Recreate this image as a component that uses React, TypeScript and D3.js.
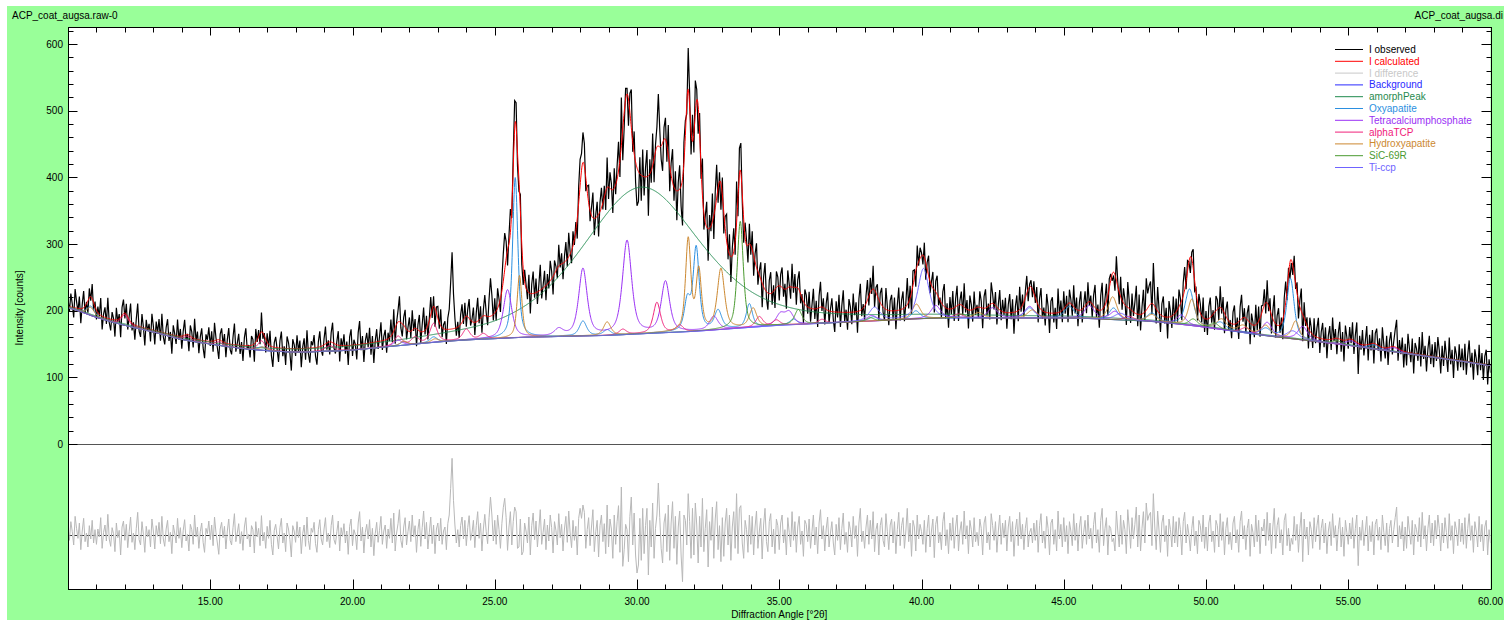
import React from "react";
import * as d3 from "d3";

// ---------------- data ----------------
// background control points, one per degree from 10 to 60 (counts)
const BACKGROUND_START = 10;
const BACKGROUND: number[] = [
  204, 190, 178, 168, 157, 150, 144, 140, 138, 139,
  141, 145, 149, 153, 156, 158, 160, 161, 162, 163,
  165, 167, 169, 172, 175, 178, 180, 182, 184, 186,
  188, 189, 189, 189, 189, 189, 188, 186, 184, 180,
  175, 169, 163, 158, 153, 148, 142, 136, 130, 124,
  118,
];

// peaks: [position °2θ, height (counts above background), FWHM °]
const AMORPH_PEAK: [number, number, number][] = [[30.15, 220, 5.0]];

const OXYAPATITE: [number, number, number][] = [
  [10.8, 14, 0.3], [16.8, 5, 0.3], [21.8, 5, 0.3], [22.85, 8, 0.3], [25.72, 240, 0.22],
  [28.1, 22, 0.3], [28.95, 8, 0.3], [31.77, 45, 0.25], [32.08, 124, 0.25], [32.85, 28, 0.3],
  [33.95, 35, 0.25], [35.5, 8, 0.3], [38.3, 6, 0.35], [39.8, 12, 0.35], [43.8, 15, 0.4],
  [45.2, 17, 0.4], [46.75, 17, 0.35], [48.1, 12, 0.4], [49.42, 54, 0.35], [50.5, 10, 0.4],
  [52.1, 10, 0.4], [52.97, 90, 0.3], [55.9, 6, 0.4],
];

const TETRACALCIUMPHOSPHATE: [number, number, number][] = [
  [21.6, 8, 0.35], [25.45, 72, 0.35], [27.25, 10, 0.35], [28.1, 100, 0.35], [29.65, 140, 0.38],
  [31.0, 76, 0.35], [32.7, 20, 0.35], [35.04, 16, 0.35], [35.35, 18, 0.35], [38.25, 8, 0.4],
  [40.5, 19, 0.4], [42.5, 15, 0.4], [43.8, 17, 0.4], [45.9, 19, 0.4], [46.8, 12, 0.4],
  [49.13, 14, 0.4], [52.15, 20, 0.4], [53.4, 20, 0.4], [55.1, 7, 0.4], [56.6, 6, 0.4],
];

const ALPHA_TCP: [number, number, number][] = [
  [12.0, 16, 0.3], [14.2, 6, 0.3], [15.3, 5, 0.3], [16.8, 14, 0.3], [19.2, 8, 0.4],
  [21.6, 14, 0.3], [22.2, 10, 0.3], [22.85, 28, 0.3], [24.0, 16, 0.3], [24.6, 8, 0.3],
  [29.5, 8, 0.3], [30.7, 46, 0.3], [31.5, 10, 0.3], [34.3, 15, 0.3], [34.9, 8, 0.3],
  [36.5, 6, 0.3], [41.3, 6, 0.4], [47.3, 6, 0.4], [51.4, 8, 0.4],
];

const HYDROXYAPATITE: [number, number, number][] = [
  [10.8, 12, 0.3], [16.85, 5, 0.3], [21.8, 6, 0.3], [22.9, 5, 0.3], [25.87, 93, 0.2],
  [28.95, 20, 0.3], [31.8, 137, 0.22], [32.17, 89, 0.22], [32.95, 90, 0.3], [34.08, 28, 0.3],
  [39.82, 22, 0.35], [42.0, 8, 0.4], [43.9, 12, 0.4], [46.72, 34, 0.35], [48.1, 10, 0.4],
  [49.5, 39, 0.3], [50.55, 15, 0.4], [51.3, 10, 0.4], [52.1, 15, 0.4], [53.15, 27, 0.3],
];

const SIC_69R: [number, number, number][] = [
  [33.63, 160, 0.25], [35.67, 22, 0.3], [38.2, 5, 0.3], [41.4, 6, 0.35],
  [49.55, 10, 0.35], [50.3, 8, 0.35], [54.6, 5, 0.4],
];

const TI_CCP: [number, number, number][] = [
  [38.35, 20, 0.45], [40.07, 75, 0.45], [47.0, 10, 0.5], [53.05, 12, 0.5],
];

// I difference (observed - calculated), 20 values per degree (step 0.05°), rows start at 10°
const DIFF_ROWS: number[][] = [
  [12, -8, 20, 5, -15, 28, 10, -5, 18, -22, 6, 25, -10, 3, -18, 14, -6, 22, -12, 8],
  [-14, 9, -3, 26, -20, 4, 15, -9, 31, -6, -17, 11, 2, -25, 18, -4, 7, -30, 12, 21],
  [-8, 16, -19, 5, 27, -11, 3, -22, 10, 34, -7, -15, 20, 1, -26, 13, -3, 8, -18, 24],
  [6, -21, 14, -2, 19, -13, 28, -6, -17, 9, 22, -10, 4, -28, 15, 3, -12, 25, -5, 11],
  [-19, 7, 23, -9, 1, -24, 16, 8, -14, 30, -3, 12, -20, 5, 18, -11, -26, 10, 2, 21],
  [-7, 15, -16, 27, 4, -12, -29, 9, 19, -4, 13, -21, 6, 24, -8, -15, 11, 32, -10, 3],
  [17, -13, 5, -23, 12, 26, -6, 1, -18, 14, 8, -27, 20, -3, 10, -16, 29, -9, 4, -20],
  [13, -5, 22, -14, -30, 7, 16, -2, -21, 11, 25, -12, 3, -25, 18, 9, -7, -33, 14, 6],
  [-11, 20, -4, 12, -28, 2, 15, -17, 27, -8, -22, 10, 4, 19, -13, -26, 8, 23, -6, -15],
  [9, 26, -10, 3, -19, 14, 30, -7, -14, 5, 21, -24, 11, -2, 17, -12, 6, -29, 13, 24],
  [-16, 8, 1, -22, 18, 35, -9, 12, -27, 4, 16, -6, 23, -18, 10, -31, 2, 19, -11, 7],
  [28, -14, 6, 15, -20, 9, -5, 25, -12, 33, -24, 3, 17, 38, -8, -19, 12, 26, -15, 5],
  [21, -10, 30, -3, 14, -26, 8, 24, -17, 11, 36, -6, 19, -21, 4, 27, -13, 15, -28, 9],
  [18, -9, 25, -14, 6, 12, -22, 17, 30, 70, 115, 52, 15, -12, 8, -18, 14, 27, -6, 22],
  [-16, 11, 29, -8, 3, 22, -19, 14, 35, -5, 18, -24, 9, 31, 5, -13, 26, 57, 30, -9],
  [22, -14, 30, 8, -20, 17, 41, 55, 26, -23, 12, 35, -15, 20, 42, 35, -20, -18, 24, -30],
  [-25, 18, 6, -12, 27, -30, 14, 33, -7, 21, -18, 9, 38, -14, 4, 24, -22, 15, -9, 30],
  [11, -27, 20, 7, -15, 32, -4, 16, -24, 9, 28, -11, 36, 3, -19, 22, -8, 13, -30, 25],
  [40, 25, 45, 34, -20, 8, 26, -16, 12, 38, -25, 5, 22, -33, 14, 30, -10, 17, -28, 45],
  [-18, 24, 9, -35, 30, -14, 20, 44, -26, 72, -47, -22, 16, 8, -40, 28, 57, -15, 33, -30],
  [-57, -45, 25, -38, 40, -28, 14, 40, -60, 22, -18, 48, -35, 10, 30, 78, 26, -20, -42, 18],
  [32, -25, 45, -38, 18, 50, -20, 28, -44, 12, 36, -30, -70, 30, 22, -15, 62, 20, -35, 40],
  [-30, 48, 15, -42, 28, -18, 55, -25, 10, 38, -48, 20, -8, 42, -35, 24, 50, -22, 14, -40],
  [26, -32, 18, 40, -15, 30, -38, 12, 35, -20, 62, -28, 40, 44, -12, -35, 22, 8, -26, 30],
  [-14, 28, -30, 12, 36, -20, 6, 25, -36, 15, 40, -10, -25, 20, 32, -18, 9, -28, 24, 14],
  [-22, 18, 30, -12, 8, -30, 26, 4, -18, 35, -8, 20, -26, 12, 28, -14, 6, -32, 22, 16],
  [-10, 24, -20, 5, 30, -15, 12, -28, 18, 38, -6, 14, -24, 9, 27, -18, 3, 20, -12, -30],
  [16, -8, 26, -22, 10, 33, -14, 4, -26, 20, 8, -18, 28, -5, 14, -32, 18, 40, -10, 6],
  [-20, 12, 30, -14, 22, -6, 35, -25, 8, 18, -30, 14, 26, -8, -18, 32, 5, -22, 15, 24],
  [-12, 20, -28, 8, 34, -16, 14, 26, -20, 6, 40, -10, 18, -32, 22, 12, -24, 30, -6, 16],
  [5, -14, 22, -26, 10, 30, -18, 6, 24, -34, 16, 28, -12, 4, -22, 20, 34, -16, 8, -28],
  [18, -8, 26, -20, 12, 30, -24, 6, 20, -14, 36, -6, 14, -28, 22, 8, -18, 26, -10, 4],
  [-16, 24, 10, -30, 18, 28, -12, 4, -22, 32, 14, -8, 20, -26, 6, 30, -14, 18, -4, 22],
  [-24, 12, 28, -10, 20, -32, 8, 24, -16, 34, -6, 16, -22, 10, 26, -18, 4, 10, -12, 18],
  [-8, 22, -26, 14, 32, -12, 6, -20, 28, 10, -30, 18, 24, -14, 8, -24, 36, -6, 16, -18],
  [26, -10, 14, -28, 20, 6, -16, 32, -8, 18, -24, 12, 28, -20, 4, 22, -14, 30, -6, 10],
  [-20, 16, 34, -12, 8, -26, 22, 40, -16, 10, 26, -30, 14, 10, -10, -5, -24, 36, 6, -18],
  [30, -14, 22, 8, -28, 38, 12, -20, 26, -6, 16, 42, -18, 30, -24, 10, 35, -12, 48, 22],
  [30, 34, -16, 62, 12, -22, 36, 6, -26, 18, 30, -10, 14, -32, 24, 8, -18, 28, -12, 20],
  [-18, 26, 8, -30, 20, 34, -12, 16, 0, -24, 10, 28, -16, 6, -28, 22, 14, -10, 30, -20],
  [12, -24, 18, 30, -10, 6, -26, 22, 14, -18, 32, -8, 20, -30, 10, 26, -14, 4, -22, 18],
  [28, -12, 8, -26, 20, 36, -6, 14, -22, 10, 24, -32, 16, 4, -18, 30, -10, 22, -28, 12],
  [6, 24, -16, 34, -8, 18, -28, 12, 40, -20, 14, 26, -12, 8, -30, 22, 32, -16, 10, -24],
  [-5, -14, 28, -8, 16, -26, 10, 34, -40, 24, -6, 12, -30, 20, 8, -20, 26, -10, 14, 30],
  [-22, 10, 24, -12, 18, -28, 6, 20, -16, 32, -4, 14, -24, 8, 26, -18, 12, -32, 22, 4],
  [-14, 18, -6, 26, -20, 10, 30, -46, 12, -8, 22, -16, 6, 28, -24, 14, -10, 20, -30, 16],
  [24, -8, 12, -22, 30, 4, -16, 18, -26, 10, 22, -12, 8, 26, 42, -18, 14, -6, 20, -24],
  [12, -20, 28, 6, -14, 22, -30, 16, 8, -10, 26, -18, 34, -6, 14, -24, 10, 30, -12, 18],
  [-16, 22, -6, 30, 10, -24, 18, -12, 26, 4, -20, 32, -8, 14, -28, 20, 8, -16, 24, -10],
  [18, -14, 26, -20, 10, 32, -8, 14, -26, 20, 6, -18, 28, -10, 16, -24, 12, 22, -30, 8],
  [-12],
];

const X_TICK_LABELS = [15, 20, 25, 30, 35, 40, 45, 50, 55, 60];
const Y_TICK_LABELS = [0, 100, 200, 300, 400, 500, 600];

const LEGEND_NAMES = [
  "I observed", "I calculated", "I difference", "Background", "amorphPeak", "Oxyapatite",
  "Tetracalciumphosphate", "alphaTCP", "Hydroxyapatite", "SiC-69R", "Ti-ccp",
];
const LEGEND_COLORS = [
  "#000000", "#ff0000", "#c8c8c8", "#2a2aff", "#1f8a4e", "#2b8fe0",
  "#9a30f5", "#f0207a", "#cc8830", "#4a9a30", "#6f63ff",
];

// ---------------- helpers ----------------
function backgroundAt(t: number): number {
  const n = BACKGROUND.length;
  const u = t - BACKGROUND_START;
  let i = Math.floor(u);
  if (i > n - 2) i = n - 2;
  if (i < 0) i = 0;
  const f = u - i;
  const p0 = BACKGROUND[Math.max(i - 1, 0)];
  const p1 = BACKGROUND[i];
  const p2 = BACKGROUND[i + 1];
  const p3 = BACKGROUND[Math.min(i + 2, n - 1)];
  return 0.5 * (2 * p1 + (-p0 + p2) * f + (2 * p0 - 5 * p1 + 4 * p2 - p3) * f * f + (-p0 + 3 * p1 - 3 * p2 + p3) * f * f * f);
}

function peaksAt(t: number, peaks: [number, number, number][], eta: number): number {
  let s = 0;
  for (const [p, h, w] of peaks) {
    const dx = (t - p) / w;
    if (Math.abs(dx) > 60) continue;
    const g = Math.exp(-4 * Math.LN2 * dx * dx);
    const l = 1 / (1 + 4 * dx * dx);
    s += h * (eta * l + (1 - eta) * g);
  }
  return s;
}

const PHASES = [
  { peaks: OXYAPATITE, color: LEGEND_COLORS[5] },
  { peaks: TETRACALCIUMPHOSPHATE, color: LEGEND_COLORS[6] },
  { peaks: ALPHA_TCP, color: LEGEND_COLORS[7] },
  { peaks: HYDROXYAPATITE, color: LEGEND_COLORS[8] },
  { peaks: SIC_69R, color: LEGEND_COLORS[9] },
  { peaks: TI_CCP, color: LEGEND_COLORS[10] },
];
const PHASE_ETA = 0.6;
const AMORPH_ETA = 0.5;

function calcAt(t: number): number {
  let v = backgroundAt(t) + peaksAt(t, AMORPH_PEAK, AMORPH_ETA);
  for (const ph of PHASES) v += peaksAt(t, ph.peaks, PHASE_ETA);
  return v;
}

export default function App() {
  const W = 1504, H = 622;
  const L = 68, R = 1490.5, T = 27, B = 589;
  const DIFF_OFFSET = -136.5;
  const x = d3.scaleLinear().domain([10, 60]).range([L, R]);
  const y = d3.scaleLinear().domain([-217.5, 625.5]).range([B, T]);

  const fine = d3.range(0, 5001).map((i) => 10 + i * 0.01);
  const line = d3.line<[number, number]>().x((d) => x(d[0])).y((d) => y(d[1]));

  const diffPts: [number, number][] = [];
  DIFF_ROWS.forEach((row, r) => row.forEach((v, k) => diffPts.push([BACKGROUND_START + r + k * 0.05, v])));
  const obsPath = line(diffPts.map(([t, d]) => [t, calcAt(t) + d]));
  const diffPath = line(diffPts.map(([t, d]) => [t, DIFF_OFFSET + d]));
  const calcPath = line(fine.map((t) => [t, calcAt(t)]));
  const bgPath = line(fine.map((t) => [t, backgroundAt(t)]));
  const amorphPath = line(fine.map((t) => [t, backgroundAt(t) + peaksAt(t, AMORPH_PEAK, AMORPH_ETA)]));
  const phasePaths = PHASES.map((ph) => line(fine.map((t) => [t, backgroundAt(t) + peaksAt(t, ph.peaks, PHASE_ETA)])));

  const xMinor = d3.range(11, 60);
  const yMinor = d3.range(0, 621, 20);
  const fmt = d3.format(".2f");
  const px = (v: number) => Math.round(v) + 0.5;

  return (
    <svg width={W} height={H} style={{ position: "absolute", left: 0, top: 0 }} fontFamily="'Liberation Sans', Arial, sans-serif" fontSize={10}>
      <rect x={0} y={0} width={W} height={H} fill="#ffffff" />
      <rect x={7} y={6} width={W - 7} height={614} fill="#99ff99" />
      <defs>
        <clipPath id="plotclip">
          <rect x={L} y={T} width={R - L} height={B - T} />
        </clipPath>
      </defs>
      <rect x={L} y={T} width={R - L} height={B - T} fill="#ffffff" />
      <g clipPath="url(#plotclip)" fill="none" strokeWidth={1}>
        <line x1={L} x2={R} y1={px(y(0))} y2={px(y(0))} stroke="#555555" />
        <line x1={L} x2={R} y1={px(y(DIFF_OFFSET))} y2={px(y(DIFF_OFFSET))} stroke="#333333" strokeDasharray="4,2" />
        <path d={obsPath || ""} stroke="#000000" strokeWidth={1.2} />
        <path d={calcPath || ""} stroke={LEGEND_COLORS[1]} />
        <path d={diffPath || ""} stroke="#b8b8b8" />
        <path d={bgPath || ""} stroke={LEGEND_COLORS[3]} />
        <path d={amorphPath || ""} stroke={LEGEND_COLORS[4]} />
        {phasePaths.map((p, i) => (
          <path key={i} d={p || ""} stroke={PHASES[i].color} />
        ))}
      </g>
      {/* frame */}
      <g stroke="#000000" strokeWidth={1} fill="none">
        <line x1={px(L)} x2={px(L)} y1={T} y2={B + 0.5} />
        <line x1={px(R)} x2={px(R)} y1={T} y2={B + 0.5} />
        <line x1={L} x2={R + 1} y1={px(T)} y2={px(T)} />
        <line x1={L} x2={R + 1} y1={px(B)} y2={px(B)} />
        {xMinor.map((v) => {
          const major = v % 5 === 0;
          const xx = px(x(v));
          return (
            <g key={"xt" + v}>
              <line x1={xx} x2={xx} y1={px(B)} y2={px(B) - (major ? 10 : 5)} />
              <line x1={xx} x2={xx} y1={px(T)} y2={px(T) + (major ? 8 : 5)} />
            </g>
          );
        })}
        {yMinor.map((v) => {
          const major = v % 100 === 0;
          const yy = px(y(v));
          return (
            <g key={"yt" + v}>
              <line x1={px(L)} x2={px(L) + (major ? 9 : 5)} y1={yy} y2={yy} />
              <line x1={px(R)} x2={px(R) - (major ? 10 : 5)} y1={yy} y2={yy} />
            </g>
          );
        })}
      </g>
      {/* tick labels */}
      <g fill="#000000">
        {X_TICK_LABELS.map((v) => (
          <text key={"xl" + v} x={x(v)} y={605} textAnchor="middle">{fmt(v)}</text>
        ))}
        {Y_TICK_LABELS.map((v) => (
          <text key={"yl" + v} x={63} y={y(v) + 3.5} textAnchor="end">{v}</text>
        ))}
        <text x={(L + R) / 2} y={618} textAnchor="middle">Diffraction Angle [°2θ]</text>
        <text transform={`translate(22.5,${(T + B) / 2}) rotate(-90)`} textAnchor="middle">Intensity [counts]</text>
        <text x={12} y={19}>ACP_coat_augsa.raw-0</text>
        <text x={1503} y={19} textAnchor="end">ACP_coat_augsa.di</text>
      </g>
      {/* legend */}
      <g>
        {LEGEND_NAMES.map((name, i) => {
          const yy = 49.5 + i * 11.8;
          return (
            <g key={name}>
              <line x1={1335} x2={1363} y1={yy} y2={yy} stroke={LEGEND_COLORS[i]} strokeWidth={1} />
              <text x={1369} y={yy + 3.5} fill={LEGEND_COLORS[i]}>{name}</text>
            </g>
          );
        })}
      </g>
    </svg>
  );
}
